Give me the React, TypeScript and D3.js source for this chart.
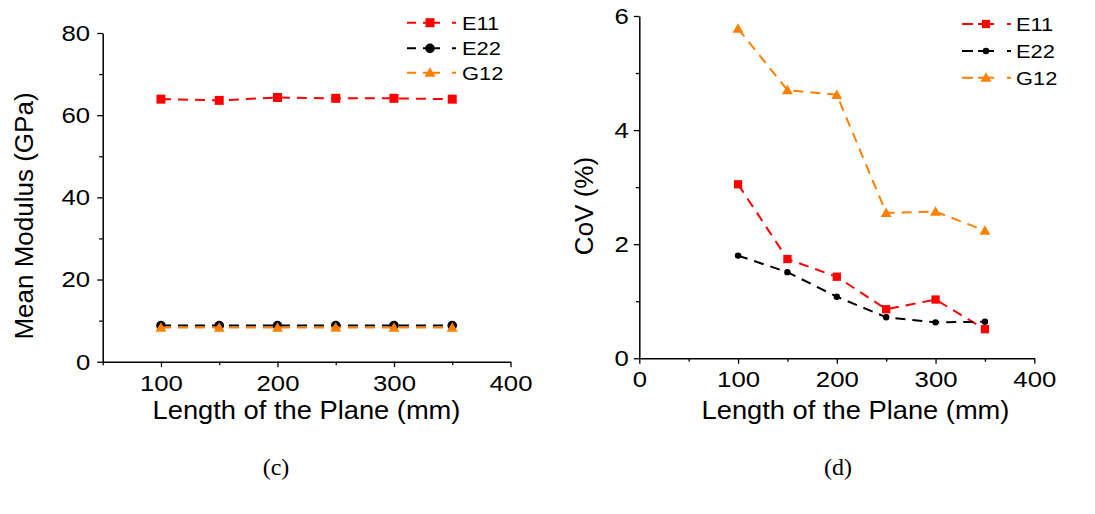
import React, { useEffect, useRef } from "react";
import * as d3 from "d3";

// Plane lengths (mm)
const lengths = [100, 150, 200, 250, 300, 350];

// Mean modulus (GPa)
const modE11 = [63.9, 63.6, 64.3, 64.1, 64.1, 63.9];
const modE22 = [8.8, 8.8, 8.8, 8.8, 8.8, 8.8];
const modG12 = [8.3, 8.3, 8.3, 8.3, 8.3, 8.3];

// Coefficient of variation (%)
const covE11 = [3.05, 1.74, 1.43, 0.86, 1.03, 0.51];
const covE22 = [1.8, 1.51, 1.08, 0.72, 0.63, 0.64];
const covG12 = [5.78, 4.7, 4.62, 2.55, 2.57, 2.24];

const seriesNames = ["E11", "E22", "G12"];
const seriesColors = ["#ff0000", "#000000", "#ff8000"];
const seriesShapes = ["square", "circle", "triangle"];

const modTicksX = [100, 200, 300, 400];
const modMinorX = [50, 150, 250, 350];
const modTicksY = [0, 20, 40, 60, 80];
const modMinorY = [10, 30, 50, 70];

const covTicksX = [0, 100, 200, 300, 400];
const covMinorX = [50, 150, 250, 350];
const covTicksY = [0, 2, 4, 6];
const covMinorY = [1, 3, 5];

const FONT = "Arial, 'Liberation Sans', sans-serif";
// the lettering is set slightly wide
const TICK_SX = 1.12;
const LEGEND_SX = 1.15;
const TITLE_SX = 1.05;

type Panel = {
  xDomain: [number, number];
  yDomain: [number, number];
  xRange: [number, number];
  yRange: [number, number];
  ticksX: number[];
  minorX: number[];
  ticksY: number[];
  minorY: number[];
  series: number[][];
  markerScale: number[];
  yTitle: string;
  yTitlePos: [number, number];
  xTitlePos: [number, number];
  yLabelPad: number;
  legendX: number;
  legendRows: number[];
  legendDash: string;
  legendLen: number;
  legendMarkerOffset: number;
  legendTextX: number;
  caption: string;
  captionX: number;
};

const panels: Panel[] = [
  {
    xDomain: [50, 400],
    yDomain: [0, 80],
    xRange: [102.7, 510.5],
    yRange: [361.7, 33],
    ticksX: modTicksX,
    minorX: modMinorX,
    ticksY: modTicksY,
    minorY: modMinorY,
    series: [modE11, modE22, modG12],
    markerScale: [1, 1.05, 1],
    yTitle: "Mean Modulus (GPa)",
    yTitlePos: [33, 216],
    xTitlePos: [306.5, 419],
    yLabelPad: 7,
    legendX: 407,
    legendRows: [22.7, 48.3, 72.7],
    legendDash: "9,7,17,12,4",
    legendLen: 49,
    legendMarkerOffset: 23,
    legendTextX: 462,
    caption: "(c)",
    captionX: 276,
  },
  {
    xDomain: [0, 400],
    yDomain: [0, 6],
    xRange: [639.3, 1034.3],
    yRange: [358.3, 16],
    ticksX: covTicksX,
    minorX: covMinorX,
    ticksY: covTicksY,
    minorY: covMinorY,
    series: [covE11, covE22, covG12],
    markerScale: [0.92, 0.7, 1],
    yTitle: "CoV (%)",
    yTitlePos: [593, 206],
    xTitlePos: [855.5, 419],
    yLabelPad: 5,
    legendX: 962,
    legendRows: [24, 51, 77.7],
    legendDash: "11,5,16,13,4",
    legendLen: 49,
    legendMarkerOffset: 24,
    legendTextX: 1016,
    caption: "(d)",
    captionX: 838,
  },
];

function drawMarker(
  g: d3.Selection<SVGGElement, unknown, null, undefined>,
  shape: string,
  color: string,
  cx: number,
  cy: number,
  k: number
) {
  if (shape === "square") {
    const s = 9 * k;
    g.append("rect")
      .attr("x", cx - s / 2)
      .attr("y", cy - s / 2)
      .attr("width", s)
      .attr("height", s)
      .attr("fill", color);
  } else if (shape === "circle") {
    g.append("circle")
      .attr("cx", cx)
      .attr("cy", cy)
      .attr("r", 4.6 * k)
      .attr("fill", color);
  } else {
    const sym = d3.symbol().type(d3.symbolTriangle).size(52 * k * k);
    g.append("path")
      .attr("transform", `translate(${cx},${cy + 1})`)
      .attr("d", sym() as string)
      .attr("fill", color);
  }
}

export default function App() {
  const ref = useRef<SVGSVGElement>(null);

  useEffect(() => {
    const svg = d3.select(ref.current!);
    svg.selectAll("*").remove();
    const root = svg.append("g") as d3.Selection<SVGGElement, unknown, null, undefined>;

    panels.forEach((p) => {
      const x = d3.scaleLinear().domain(p.xDomain).range(p.xRange);
      const y = d3.scaleLinear().domain(p.yDomain).range(p.yRange);
      const g = root.append("g");

      // minor ticks
      g.append("g")
        .attr("transform", `translate(0,${p.yRange[0]})`)
        .call(d3.axisBottom(x).tickValues(p.minorX).tickSize(3.5).tickFormat(() => ""))
        .call((a) => a.select(".domain").remove());
      g.append("g")
        .attr("transform", `translate(${p.xRange[0]},0)`)
        .call(d3.axisLeft(y).tickValues(p.minorY).tickSize(3.5).tickFormat(() => ""))
        .call((a) => a.select(".domain").remove());

      // major axes
      const xa = g
        .append("g")
        .attr("transform", `translate(0,${p.yRange[0]})`)
        .call(
          d3.axisBottom(x).tickValues(p.ticksX).tickSize(5.5).tickPadding(7).tickSizeOuter(0).tickFormat(d3.format("d"))
        );
      const ya = g
        .append("g")
        .attr("transform", `translate(${p.xRange[0]},0)`)
        .call(
          d3.axisLeft(y).tickValues(p.ticksY).tickSize(5.5).tickPadding(p.yLabelPad).tickSizeOuter(0).tickFormat(d3.format("d"))
        );
      [xa, ya].forEach((a) => {
        a.selectAll("text").attr("font-size", 23).attr("font-family", FONT).attr("fill", "#000");
        a.selectAll("line").attr("stroke", "#000").attr("stroke-width", 1.3);
        a.select(".domain").attr("stroke", "#000").attr("stroke-width", 1.5);
      });
      // widen tick lettering about its anchor point
      xa.selectAll<SVGTextElement, unknown>("text").attr("transform", `scale(${TICK_SX},1)`);
      ya.selectAll<SVGTextElement, unknown>("text").each(function () {
        const t = d3.select(this);
        const x0 = +t.attr("x");
        t.attr("x", null).attr("transform", `translate(${x0},0) scale(${TICK_SX},1)`);
      });
      g.selectAll(".tick line").attr("stroke", "#000").attr("stroke-width", 1.3);

      // series
      p.series.forEach((vals, si) => {
        const color = seriesColors[si];
        const pts = lengths.map((l, i) => [x(l), y(vals[i])] as [number, number]);
        g.append("path")
          .attr("d", d3.line()(pts) as string)
          .attr("fill", "none")
          .attr("stroke", color)
          .attr("stroke-width", 2)
          .attr("stroke-dasharray", "10,7");
        const mg = g.append("g");
        pts.forEach(([cx, cy]) => drawMarker(mg, seriesShapes[si], color, cx, cy, p.markerScale[si]));
      });

      // legend
      seriesNames.forEach((name, si) => {
        const ly = p.legendRows[si];
        const color = seriesColors[si];
        g.append("line")
          .attr("x1", p.legendX)
          .attr("x2", p.legendX + p.legendLen)
          .attr("y1", ly)
          .attr("y2", ly)
          .attr("stroke", color)
          .attr("stroke-width", 2)
          .attr("stroke-dasharray", p.legendDash);
        const lg = g.append("g");
        drawMarker(lg, seriesShapes[si], color, p.legendX + p.legendMarkerOffset, ly, p.markerScale[si]);
        g.append("text")
          .attr("transform", `translate(${p.legendTextX},${ly}) scale(${LEGEND_SX},1)`)
          .attr("dy", "0.36em")
          .attr("font-size", 19)
          .attr("font-family", FONT)
          .attr("fill", "#000")
          .text(name);
      });

      // axis titles
      g.append("text")
        .attr("transform", `translate(${p.yTitlePos[0]},${p.yTitlePos[1]}) rotate(-90)`)
        .attr("text-anchor", "middle")
        .attr("font-size", 26)
        .attr("font-family", FONT)
        .attr("fill", "#000")
        .text(p.yTitle);
      g.append("text")
        .attr("transform", `translate(${p.xTitlePos[0]},${p.xTitlePos[1]}) scale(${TITLE_SX},1)`)
        .attr("text-anchor", "middle")
        .attr("font-size", 26)
        .attr("font-family", FONT)
        .attr("fill", "#000")
        .text("Length of the Plane (mm)");

      // panel caption
      g.append("text")
        .attr("x", p.captionX)
        .attr("y", 475)
        .attr("text-anchor", "middle")
        .attr("font-size", 24)
        .attr("font-family", "'Times New Roman', 'Liberation Serif', serif")
        .attr("fill", "#000")
        .text(p.caption);
    });
  }, []);

  return (
    <svg
      ref={ref}
      width={1095}
      height={514}
      style={{ position: "absolute", left: 0, top: 0, background: "#fff" }}
    />
  );
}
